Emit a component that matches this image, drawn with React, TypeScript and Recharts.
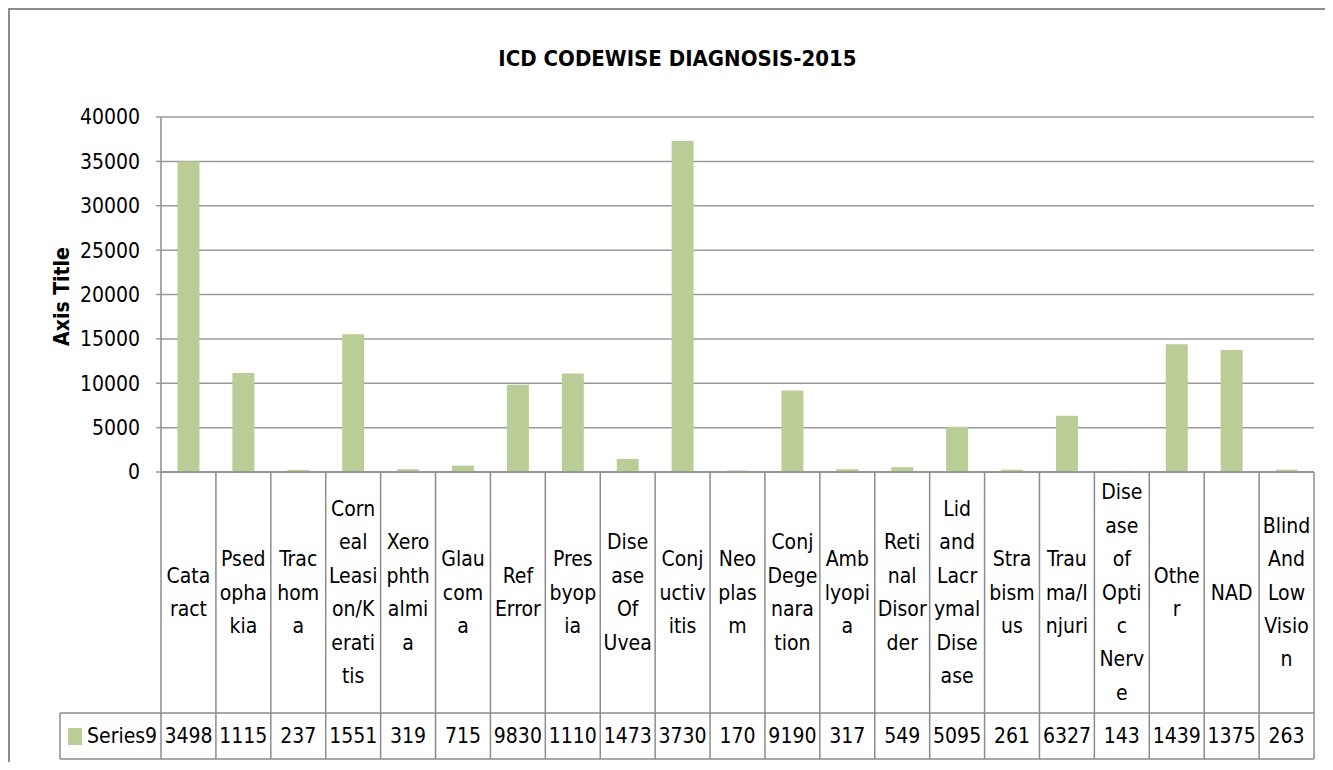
import React from 'react';
import { BarChart, Bar, XAxis, YAxis, CartesianGrid } from 'recharts';

const CATEGORIES = [
  'Cataract', 'Psedophakia', 'Trachoma', 'Corneal Leasion/Keratitis', 'Xerophthalmia', 'Glaucoma',
  'Ref Error', 'Presbyopia', 'Disease Of Uvea', 'Conjuctivitis', 'Neoplasm', 'Conj Degenaration',
  'Amblyopia', 'Retinal Disorder', 'Lid and Lacrymal Disease', 'Strabismus', 'Trauma/Injuri',
  'Disease of Optic Nerve', 'Other', 'NAD', 'Blind And Low Vision',
];

const LABEL_LINES = [
  ['Cata', 'ract'], ['Psed', 'opha', 'kia'], ['Trac', 'hom', 'a'],
  ['Corn', 'eal', 'Leasi', 'on/K', 'erati', 'tis'], ['Xero', 'phth', 'almi', 'a'], ['Glau', 'com', 'a'],
  ['Ref', 'Error'], ['Pres', 'byop', 'ia'], ['Dise', 'ase', 'Of', 'Uvea'], ['Conj', 'uctiv', 'itis'],
  ['Neo', 'plas', 'm'], ['Conj', 'Dege', 'nara', 'tion'], ['Amb', 'lyopi', 'a'],
  ['Reti', 'nal', 'Disor', 'der'], ['Lid', 'and', 'Lacr', 'ymal', 'Dise', 'ase'], ['Stra', 'bism', 'us'],
  ['Trau', 'ma/I', 'njuri'], ['Dise', 'ase', 'of', 'Opti', 'c', 'Nerv', 'e'], ['Othe', 'r'], ['NAD'],
  ['Blind', 'And', 'Low', 'Visio', 'n'],
];

const SERIES9 = [
  34985, 11152, 237, 15514, 319, 715, 9830, 11105, 1473, 37305, 170, 9190,
  317, 549, 5095, 261, 6327, 143, 14395, 13755, 263,
];

const Y_TICKS = [0, 5000, 10000, 15000, 20000, 25000, 30000, 35000, 40000];

const SERIES_NAME = 'Series9';
const TITLE = 'ICD CODEWISE DIAGNOSIS-2015';
const Y_TITLE = 'Axis Title';

const data = CATEGORIES.map((c, i) => ({ name: c, idx: i, value: SERIES9[i] }));

// layout
const CHART_W = 1323;
const CHART_H = 752;
const Y_AXIS_W = 151;
const M_TOP = 107;
const M_RIGHT = 19;
const M_BOTTOM = 3;
const X_AXIS_H = 287;
const PLOT_W = CHART_W - Y_AXIS_W - M_RIGHT;
const COL_W = PLOT_W / CATEGORIES.length;
const ROW1_H = 241;
const LINE_H = 33.4;
const LEGEND_LEFT = 50;
const FS = 21;

const FONT = "'Liberation Sans Narrow', 'DejaVu Sans Condensed', 'Open Sans', sans-serif";
const GRID = '#9a9a9a';
const BORDER = '#8c8c8c';
const BAR = '#BACD96';

const TableTick = (props: any) => {
  const { x, y, payload, index } = props;
  const i = typeof index === 'number' ? index : CATEGORIES.indexOf(payload.value);
  const lines = LABEL_LINES[i] || [];
  const top = y;
  const r1 = top + ROW1_H;
  const r2 = top + X_AXIS_H;
  const mid = top + ROW1_H / 2;
  const left = x - COL_W / 2;
  const right = x + COL_W / 2;
  const n = lines.length;
  const plotRight = Y_AXIS_W + PLOT_W;
  return (
    <g>
      <line x1={left} y1={top} x2={left} y2={r2} stroke={BORDER} strokeWidth={1.5} />
      {i === CATEGORIES.length - 1 && (
        <line x1={right} y1={top} x2={right} y2={r2} stroke={BORDER} strokeWidth={1.5} />
      )}
      {i === 0 && (
        <g>
          <line x1={LEGEND_LEFT} y1={r1} x2={plotRight} y2={r1} stroke={BORDER} strokeWidth={1.5} />
          <line x1={LEGEND_LEFT} y1={r2} x2={plotRight} y2={r2} stroke={BORDER} strokeWidth={1.5} />
          <line x1={LEGEND_LEFT} y1={r1} x2={LEGEND_LEFT} y2={r2} stroke={BORDER} strokeWidth={1.5} />
          <rect x={LEGEND_LEFT + 8} y={(r1 + r2) / 2 - 8} width={14} height={17} fill={BAR} />
          <text x={LEGEND_LEFT + 27} y={(r1 + r2) / 2} dominantBaseline="central" fontFamily={FONT} fontSize={FS} fill="#000">
            {SERIES_NAME}
          </text>
        </g>
      )}
      {lines.map((ln: string, k: number) => (
        <text
          key={k}
          x={x}
          y={mid + (k - (n - 1) / 2) * LINE_H}
          textAnchor="middle"
          dominantBaseline="central"
          fontFamily={FONT}
          fontSize={FS}
          fill="#000"
        >
          {ln}
        </text>
      ))}
      <text
        x={x}
        y={(r1 + r2) / 2}
        textAnchor="middle"
        dominantBaseline="central"
        fontFamily={FONT}
        fontSize={FS}
        fill="#000"
      >
        {String(SERIES9[i]).slice(0, 4)}
      </text>
    </g>
  );
};

const YTitle = () => {
  const cy = M_TOP + (CHART_H - M_TOP - M_BOTTOM - X_AXIS_H) / 2 + 2;
  const cx = 52;
  return (
    <text
      x={cx}
      y={cy}
      transform={`rotate(-90 ${cx} ${cy})`}
      textAnchor="middle"
      dominantBaseline="central"
      fontFamily={FONT}
      fontWeight="bold"
      fontSize={21}
      fill="#000"
    >
      {Y_TITLE}
    </text>
  );
};

export default function App() {
  return (
    <div
      style={{
        width: 1325,
        height: 754,
        boxSizing: 'border-box',
        borderLeft: `2px solid ${BORDER}`,
        borderTop: `2px solid ${BORDER}`,
        background: '#fff',
        position: 'relative',
        overflow: 'hidden',
      }}
    >
      <div
        style={{
          position: 'absolute',
          left: 0,
          right: 0,
          top: 38,
          textAlign: 'center',
          fontFamily: FONT,
          fontWeight: 'bold',
          fontSize: 22,
          lineHeight: '22px',
          paddingLeft: 12,
        }}
      >
        {TITLE}
      </div>
      <BarChart
        width={CHART_W}
        height={CHART_H}
        data={data}
        margin={{ top: M_TOP, right: M_RIGHT, bottom: M_BOTTOM, left: 0 }}
        barCategoryGap="30%"
      >
        <CartesianGrid vertical={false} stroke={GRID} strokeWidth={1.5} />
        <XAxis
          dataKey="name"
          height={X_AXIS_H}
          interval={0}
          tickLine={false}
          tickSize={0}
          tickMargin={0}
          axisLine={{ stroke: BORDER, strokeWidth: 1.5 }}
          tick={<TableTick />}
        />
        <YAxis
          width={Y_AXIS_W}
          domain={[0, 40000]}
          ticks={Y_TICKS}
          interval={0}
          tickSize={5}
          tickMargin={16}
          tickLine={{ stroke: GRID, strokeWidth: 1.5 }}
          axisLine={{ stroke: BORDER, strokeWidth: 1.5 }}
          tick={{ fontFamily: FONT, fontSize: FS, fill: '#000' }}
          label={{ content: <YTitle /> }}
        />
        <Bar dataKey="value" name={SERIES_NAME} fill={BAR} isAnimationActive={false} />
      </BarChart>
    </div>
  );
}
